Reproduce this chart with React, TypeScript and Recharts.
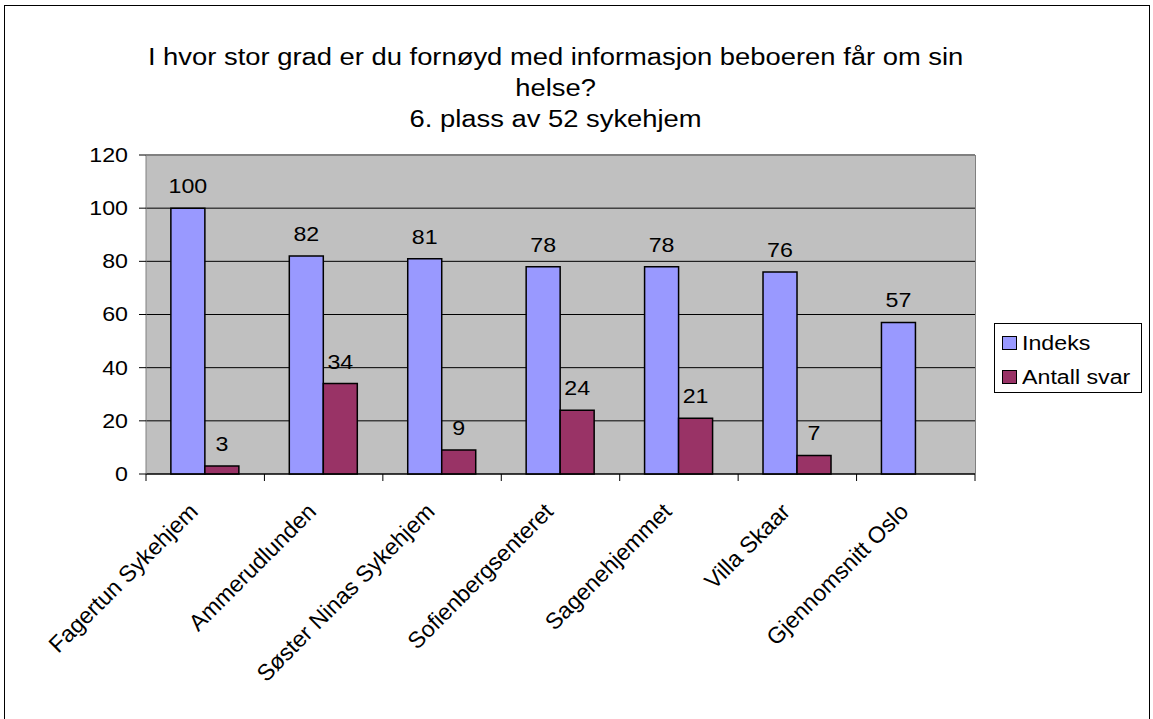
import React from "react";
import { BarChart, Bar, XAxis, YAxis, CartesianGrid, LabelList } from "recharts";

const categories = [
  "Fagertun Sykehjem",
  "Ammerudlunden",
  "Søster Ninas Sykehjem",
  "Sofienbergsenteret",
  "Sagenehjemmet",
  "Villa Skaar",
  "Gjennomsnitt Oslo",
];
const indeks = [100, 82, 81, 78, 78, 76, 57];
const antallSvar: (number | null)[] = [3, 34, 9, 24, 21, 7, null];
const yTicks = [0, 20, 40, 60, 80, 100, 120];
const seriesNames = ["Indeks", "Antall svar"];
const seriesColors = ["#9999FF", "#993366"];
const titleLines = [
  "I hvor stor grad er du fornøyd med informasjon beboeren får om sin",
  "helse?",
  "6. plass av 52 sykehjem",
];

const FONT = '"Liberation Sans", Arial, sans-serif';
const STRETCH = 1.16; // the original text is a bit wider than Arial
const PLOT_LEFT = 146;
const PLOT_RIGHT = 975;
const PLOT_TOP = 155;
const PLOT_BOTTOM = 474;
const BAND = (PLOT_RIGHT - PLOT_LEFT) / categories.length;

const data = categories.map((name, i) => ({
  name,
  indeks: indeks[i],
  antall: antallSvar[i],
}));

function wide(x: number, y: number) {
  return `translate(${x},${y}) scale(${STRETCH},1) translate(${-x},${-y})`;
}

function CategoryTick(props: any) {
  const { x, y, payload, index } = props;
  const last = index === categories.length - 1;
  const tx = x - 6;
  const ty = y + 32;
  return (
    <g>
      <line x1={x - BAND / 2} x2={x - BAND / 2} y1={y - 7} y2={y} stroke="#000" />
      {last && <line x1={x + BAND / 2} x2={x + BAND / 2} y1={y - 7} y2={y} stroke="#000" />}
      <text
        x={tx}
        y={ty}
        transform={`rotate(-45, ${tx}, ${ty})`}
        textAnchor="end"
        fontSize={23}
        fontFamily={FONT}
        fill="#000"
      >
        {payload.value}
      </text>
    </g>
  );
}

function ValueTick(props: any) {
  const { x, y, payload } = props;
  return (
    <text x={x} y={y} dy={7} transform={wide(x, y)} textAnchor="end" fontSize={20} fontFamily={FONT} fill="#000">
      {payload.value}
    </text>
  );
}

function ValueLabel(props: any) {
  const { x, y, width, value } = props;
  if (value == null) return null;
  const cx = x + width / 2;
  const cy = y - 15;
  return (
    <text x={cx} y={cy} transform={wide(cx, cy)} textAnchor="middle" fontSize={20} fontFamily={FONT} fill="#000">
      {value}
    </text>
  );
}

export default function App() {
  return (
    <div style={{ position: "absolute", left: 0, top: 0, width: 1153, height: 719, overflow: "hidden", background: "#fff", fontFamily: FONT }}>
      <div style={{ position: "absolute", left: 4, top: 5, width: 1144, height: 730, border: "1px solid #000" }} />
      <div
        style={{
          position: "absolute",
          left: 0,
          top: 42,
          width: 1111,
          textAlign: "center",
          fontSize: 23,
          lineHeight: "31px",
          color: "#000",
          transform: "scaleX(1.19)",
          transformOrigin: "555px 0",
        }}
      >
        {titleLines.map((t) => (
          <div key={t}>{t}</div>
        ))}
      </div>
      <div style={{ position: "absolute", left: 0, top: 0 }}>
        <BarChart
          width={1153}
          height={719}
          data={data}
          margin={{ top: PLOT_TOP, right: 1153 - PLOT_RIGHT, bottom: 0, left: PLOT_LEFT - 60 }}
          barCategoryGap="21%"
          barGap={0}
        >
          <CartesianGrid vertical={false} stroke="#000" fill="#C0C0C0" />
          <XAxis
            dataKey="name"
            height={719 - PLOT_BOTTOM}
            interval={0}
            tickLine={false}
            tickSize={7}
            tickMargin={0}
            axisLine={{ stroke: "#000" }}
            tick={<CategoryTick />}
          />
          <YAxis
            width={60}
            domain={[0, 120]}
            ticks={yTicks}
            tickSize={7}
            tickMargin={11}
            axisLine={{ stroke: "#808080" }}
            tickLine={{ stroke: "#000" }}
            tick={<ValueTick />}
          />
          <Bar dataKey="indeks" name={seriesNames[0]} fill={seriesColors[0]} stroke="#000" strokeWidth={1.5} isAnimationActive={false}>
            <LabelList dataKey="indeks" content={<ValueLabel />} />
          </Bar>
          <Bar dataKey="antall" name={seriesNames[1]} fill={seriesColors[1]} stroke="#000" strokeWidth={1.5} isAnimationActive={false}>
            <LabelList dataKey="antall" content={<ValueLabel />} />
          </Bar>
        </BarChart>
      </div>
      <div
        style={{
          position: "absolute",
          left: PLOT_LEFT,
          top: PLOT_TOP,
          width: PLOT_RIGHT - PLOT_LEFT + 1,
          height: PLOT_BOTTOM - PLOT_TOP,
          borderTop: "1px solid #808080",
          borderRight: "1px solid #808080",
          boxSizing: "border-box",
          pointerEvents: "none",
        }}
      />
      <div
        style={{
          position: "absolute",
          left: 994,
          top: 323,
          width: 148,
          height: 70,
          border: "1px solid #000",
          background: "#fff",
          boxSizing: "border-box",
          paddingTop: 2,
        }}
      >
        {seriesNames.map((name, i) => (
          <div key={name} style={{ display: "flex", alignItems: "center", height: 34, paddingLeft: 7 }}>
            <span
              style={{
                display: "inline-block",
                width: 15,
                height: 14,
                background: seriesColors[i],
                border: "1.5px solid #000",
                boxSizing: "border-box",
                marginRight: 5,
              }}
            />
            <span style={{ fontSize: 20, display: "inline-block", transform: `scaleX(${STRETCH})`, transformOrigin: "0 50%" }}>{name}</span>
          </div>
        ))}
      </div>
    </div>
  );
}
